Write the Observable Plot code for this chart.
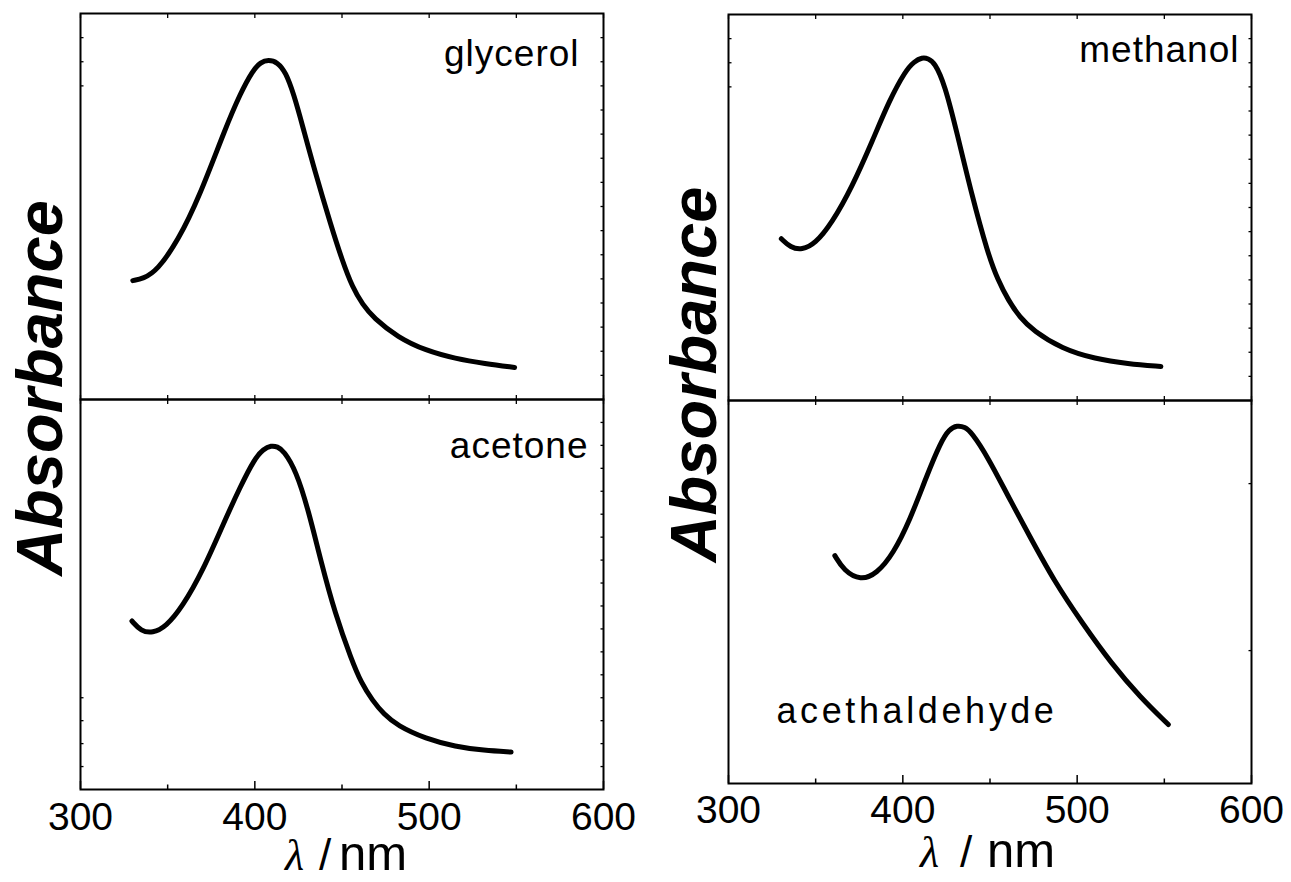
<!DOCTYPE html>
<html><head><meta charset="utf-8">
<script src="https://cdn.jsdelivr.net/npm/d3@7"></script>
<script src="https://cdn.jsdelivr.net/npm/@observablehq/plot@0.6"></script>
<style>
body{margin:0;background:#fff}
#fig{position:relative;width:1291px;height:882px;overflow:hidden;background:#fff;font-family:"Liberation Sans",Arial,sans-serif}
#fig svg{position:absolute;overflow:visible}
</style></head><body><div id="fig"></div>
<script>
// ---- data (wavelength in nm, absorbance in arbitrary units, per panel) ----
const glycerolWl  = [330,336,344,356,368,383.3,391.6,398.7,403.4,407.7,413,417.7,422.4,427.2,434,444,450,456,462,468,482,498,515,532,549];
const glycerolAbs = [0.308,0.313,0.334,0.412,0.523,0.705,0.792,0.852,0.874,0.880,0.874,0.848,0.790,0.712,0.598,0.446,0.362,0.290,0.245,0.212,0.161,0.127,0.106,0.093,0.083];

const acetoneWl  = [329.5,334.7,341.3,348.9,358.4,370.3,382,391.6,399.8,405,409.4,413,416.5,423.6,430.8,437.8,446,455.6,461,467.5,474,481.7,498,515,531.5,547];
const acetoneAbs = [0.432,0.406,0.401,0.417,0.468,0.562,0.682,0.776,0.848,0.873,0.882,0.879,0.869,0.818,0.715,0.587,0.451,0.331,0.274,0.228,0.193,0.164,0.130,0.110,0.100,0.096];

const methanolWl  = [330.3,335.6,342.1,349.7,359.1,370.9,382.7,392.2,401.6,406.5,411.1,414.5,418.2,424,431.2,439.4,448.8,454.5,460.6,467,474.8,491.3,510.2,529.1,548];
const methanolAbs = [0.419,0.396,0.390,0.406,0.458,0.553,0.674,0.777,0.855,0.878,0.889,0.886,0.876,0.820,0.691,0.535,0.380,0.312,0.259,0.216,0.181,0.134,0.108,0.095,0.088];

const acethaldehydeWl  = [361,366.2,375.7,385.1,394.5,404,413.4,421.7,426.5,431.2,435.5,439.4,448.8,460.6,472.5,486.6,503.2,519.7,536.2,552.3];
const acethaldehydeAbs = [0.595,0.556,0.530,0.548,0.600,0.687,0.800,0.891,0.925,0.935,0.931,0.917,0.852,0.748,0.648,0.530,0.417,0.313,0.225,0.154];

const xTickLabels = [300, 400, 500, 600];
const xMinorTicks = [350, 450, 550];
const xAllTicks = [300, 350, 400, 450, 500, 550, 600];
const yTicks16 = d3.range(1, 16).map(i => i / 16);
const yTicks17 = d3.range(1, 17).map(i => i / 17);
const yTicksAld = [0.347, 0.783];

const fig = document.getElementById("fig");
const W = 523, M = 8;

function panel(o) {
  const h = o.bottom - o.top;
  const data = o.wl.map((x, i) => ({x, y: o.abs[i]}));
  const mb = o.axis ? 70 : M;
  const marks = [
    Plot.frame({stroke: "black", strokeWidth: 2}),
    Plot.axisX({anchor: "top", ticks: xAllTicks, tickSize: -4, tickFormat: () => "", label: null, strokeWidth: 1.3}),
    Plot.axisY({anchor: "right", ticks: o.yTicks, tickSize: -3.5, tickFormat: () => "", label: null, strokeWidth: 1.3}),
    Plot.axisY({anchor: "left", ticks: o.yTicksLeft, tickSize: -3.5, tickFormat: () => "", label: null, strokeWidth: 1.3})
  ];
  if (o.axis) {
    marks.push(
      Plot.axisX({anchor: "bottom", ticks: xTickLabels, tickSize: -8, tickFormat: () => "", label: null, strokeWidth: 1.5}),
      Plot.axisX({anchor: "bottom", ticks: xMinorTicks, tickSize: -4.5, tickFormat: () => "", label: null, strokeWidth: 1.5}),
      Plot.axisX({anchor: "bottom", ticks: xTickLabels, tickSize: 0, tickPadding: o.tickPad, tickFormat: d => String(d), label: null, fontSize: 39, fill: "black"})
    );
  } else {
    marks.push(Plot.axisX({anchor: "bottom", ticks: xAllTicks, tickSize: -4, tickFormat: () => "", label: null, strokeWidth: 1.3}));
  }
  marks.push(
    Plot.line(data, {x: "x", y: "y", curve: "basis", stroke: "black", strokeWidth: 5, strokeLinecap: "round", strokeLinejoin: "round"}),
    Plot.text([o.label], {text: d => d, frameAnchor: o.anchor, textAnchor: o.textAnchor, lineAnchor: "top", dx: o.dx, dy: o.dy, fontSize: o.fontSize, fill: "black"})
  );
  const svg = Plot.plot({
    width: W + 2 * M,
    height: h + M + mb,
    marginLeft: M, marginRight: M, marginTop: M, marginBottom: mb,
    x: {domain: [300, 600]},
    y: {domain: [0, 1]},
    style: {background: "transparent", overflow: "visible", fontFamily: "Liberation Sans, Arial, sans-serif", color: "black"},
    marks
  });
  svg.style.left = (o.left - M) + "px";
  svg.style.top = (o.top - M) + "px";
  svg.querySelectorAll('g[aria-label="text"] text').forEach(t => t.setAttribute("letter-spacing", o.spacing));
  fig.appendChild(svg);
}

panel({wl: glycerolWl, abs: glycerolAbs, left: 80, top: 13, bottom: 399, axis: false,
  yTicks: yTicks16, yTicksLeft: yTicks16.filter(v => v > 0.78),
  label: "glycerol", anchor: "top-right", textAnchor: "end", dx: -24, dy: 26.7, fontSize: 37, spacing: 1});
panel({wl: acetoneWl, abs: acetoneAbs, left: 80, top: 399, bottom: 789, axis: true, tickPad: 13,
  yTicks: yTicks17, yTicksLeft: yTicks17.filter(v => v < 0.26),
  label: "acetone", anchor: "top-right", textAnchor: "end", dx: -15, dy: 32.7, fontSize: 37, spacing: 1});
panel({wl: methanolWl, abs: methanolAbs, left: 728, top: 14, bottom: 400, axis: false,
  yTicks: yTicks16, yTicksLeft: yTicks16.filter(v => v > 0.78),
  label: "methanol", anchor: "top-right", textAnchor: "end", dx: -12, dy: 21.7, fontSize: 37, spacing: 1});
panel({wl: acethaldehydeWl, abs: acethaldehydeAbs, left: 728, top: 400, bottom: 783, axis: true, tickPad: 12,
  yTicks: yTicksAld, yTicksLeft: [],
  label: "acethaldehyde", anchor: "top-left", textAnchor: "start", dx: 48, dy: 297.4, fontSize: 36, spacing: 3.6});

// axis titles
const ov = d3.select(fig).append("svg").attr("width", 1291).attr("height", 882).style("left", "0px").style("top", "0px");
function ytitle(x, y) {
  ov.append("text").attr("transform", `translate(${x},${y}) rotate(-90)`).attr("text-anchor", "middle")
    .attr("font-family", "Liberation Sans, Arial, sans-serif").attr("font-weight", "bold").attr("font-style", "italic")
    .attr("font-size", 65).text("Absorbance");
}
ytitle(62, 388);
ytitle(716, 374.5);
function xtitle(xl, xs, xn, y) {
  ov.append("text").attr("x", xl).attr("y", y).attr("font-family", "Liberation Serif, serif").attr("font-style", "italic").attr("font-size", 44).text("λ");
  ov.append("text").attr("x", xs).attr("y", y).attr("font-family", "Liberation Sans, Arial, sans-serif").attr("font-size", 44).text("/");
  ov.append("text").attr("x", xn).attr("y", y).attr("font-family", "Liberation Sans, Arial, sans-serif").attr("font-size", 49).text("nm");
}
xtitle(285, 319, 339, 870);
xtitle(920, 960, 987, 867);
</script></body></html>
